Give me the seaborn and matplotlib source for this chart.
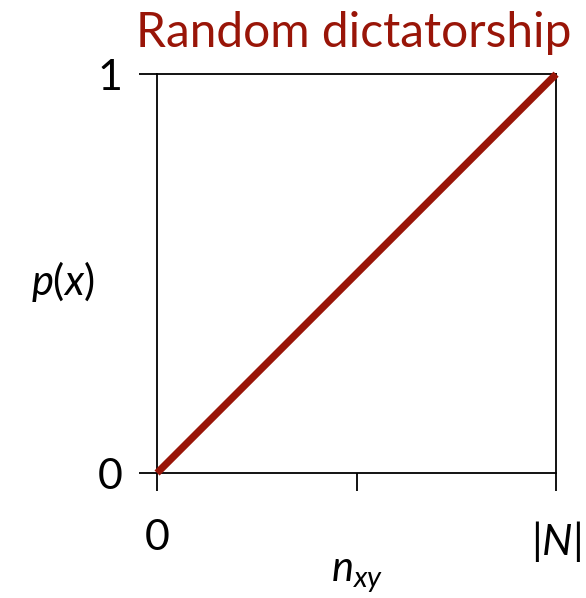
import numpy as np
import pandas as pd
import matplotlib
matplotlib.use("Agg")
import matplotlib.pyplot as plt
import seaborn as sns

# Data
n_xy = [0.0, 1.0]
p_x = [0.0, 1.0]
x_ticks = [0.0, 0.5, 1.0]
x_tick_labels = ["0", "", "|$N$|"]
y_ticks = [0.0, 1.0]
y_tick_labels = ["0", "1"]

RED = "#991508"

sns.set_style("white")
plt.rcParams["font.family"] = ["Lato", "DejaVu Sans"]
plt.rcParams["text.color"] = "black"
plt.rcParams["mathtext.fontset"] = "custom"
plt.rcParams["mathtext.it"] = "Lato:italic"
plt.rcParams["mathtext.rm"] = "Lato"

fig = plt.figure(figsize=(5.86, 5.98), dpi=100)
ax = fig.add_axes([0.268, 0.209, 0.681, 0.667])

df = pd.DataFrame({"n": n_xy, "p": p_x})
sns.lineplot(data=df, x="n", y="p", ax=ax, color=RED, linewidth=5.2,
             solid_capstyle="butt", clip_on=False, zorder=3)

ax.set_xlim(0, 1)
ax.set_ylim(0, 1)
ax.set_xticks(x_ticks)
ax.set_xticklabels(x_tick_labels, fontsize=31)
ax.set_yticks(y_ticks)
ax.set_yticklabels(y_tick_labels, fontsize=31)
ax.tick_params(axis="x", direction="out", length=13, width=1.3, pad=20,
               colors="black", labelcolor="black", bottom=True)
ax.tick_params(axis="y", direction="out", length=13, width=1.3, pad=12,
               colors="black", labelcolor="black", left=True)

for s in ax.spines.values():
    s.set_visible(True)
    s.set_color("black")
    s.set_linewidth(1.3)

ax.set_xlabel("$n_{xy}$", fontsize=30, color="black", labelpad=-5)
ax.set_ylabel("$p(x)$", fontsize=30, color="black", rotation=0, va="center")
ax.yaxis.set_label_coords(-0.235, 0.48)

fig.text(0.976, 0.944, "Random dictatorship", color=RED, fontsize=34.5,
         ha="right", va="center")

fig.savefig("out.png", dpi=100)
